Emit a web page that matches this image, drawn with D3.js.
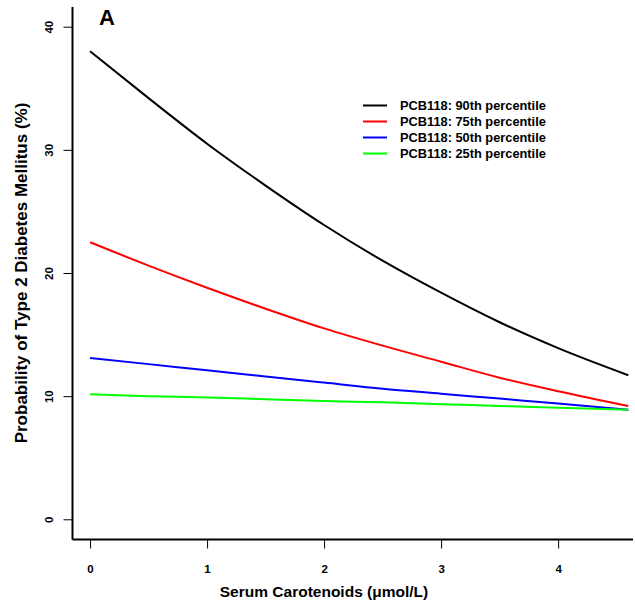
<!DOCTYPE html>
<html>
<head>
<meta charset="utf-8">
<script src="https://cdn.jsdelivr.net/npm/d3@7"></script>
<style>
  html, body { margin: 0; padding: 0; background: #fff; }
  svg { display: block; }
  text { font-family: "Liberation Sans", Arial, sans-serif; font-weight: bold; fill: #000; }
</style>
</head>
<body>
<svg id="chart" width="635" height="609"></svg>
<script>
// ---- data ----
const carotenoids = [0, 0.5, 1, 1.5, 2, 2.5, 3, 3.5, 4, 4.6];
const pcb90 = [38.0, 34.2, 30.5, 27.1, 23.9, 21.0, 18.4, 16.0, 13.9, 11.7];
const pcb75 = [22.5, 20.6, 18.8, 17.1, 15.5, 14.1, 12.8, 11.5, 10.4, 9.2];
const pcb50 = [13.1, 12.6, 12.1, 11.6, 11.1, 10.6, 10.2, 9.8, 9.4, 8.9];
const pcb25 = [10.15, 10.0, 9.9, 9.75, 9.6, 9.5, 9.35, 9.2, 9.05, 8.9];
const seriesNames = ["PCB118: 90th percentile", "PCB118: 75th percentile", "PCB118: 50th percentile", "PCB118: 25th percentile"];
const seriesColors = ["#000000", "#ff0000", "#0000ff", "#00ff00"];
const xTicks = [0, 1, 2, 3, 4];
const yTicks = [0, 10, 20, 30, 40];
const panelLabel = "A";
const xTitle = "Serum Carotenoids (\u03bcmol/L)";
const yTitle = "Probability of Type 2 Diabetes Mellitus (%)";

const allSeries = [pcb90, pcb75, pcb50, pcb25];

const svg = d3.select("#chart");
const x = d3.scaleLinear().domain([-0.15, 4.64]).range([72.5, 633]);
const y = d3.scaleLinear().domain([-1.6, 41.6]).range([539, 7]);

// axes box (L shape)
svg.append("line").attr("x1", 72.5).attr("x2", 72.5).attr("y1", 7).attr("y2", 539.5)
  .attr("stroke", "#000").attr("stroke-width", 2);
svg.append("line").attr("x1", 72.5).attr("x2", 633).attr("y1", 539.5).attr("y2", 539.5)
  .attr("stroke", "#000").attr("stroke-width", 2);

// x axis
const xAxis = d3.axisBottom(x).tickValues(xTicks).tickSize(9).tickFormat(d3.format("d"));
const gx = svg.append("g").attr("transform", "translate(0,539.5)").call(xAxis);
gx.select(".domain").remove();
gx.selectAll(".tick line").attr("stroke", "#000").attr("stroke-width", 1);
gx.selectAll(".tick text").attr("y", 33).attr("dy", null)
  .style("font-size", "11.5px").style("font-family", "'Liberation Sans', Arial, sans-serif").style("font-weight", "bold");

// y axis
const yAxis = d3.axisLeft(y).tickValues(yTicks).tickSize(9).tickFormat(d3.format("d"));
const gy = svg.append("g").attr("transform", "translate(72.5,0)").call(yAxis);
gy.select(".domain").remove();
gy.selectAll(".tick line").attr("stroke", "#000").attr("stroke-width", 1);
gy.selectAll(".tick text")
  .attr("x", null).attr("dy", null)
  .attr("text-anchor", "middle")
  .attr("transform", "translate(-19.5,0) rotate(-90)")
  .style("font-size", "11.5px").style("font-family", "'Liberation Sans', Arial, sans-serif").style("font-weight", "bold");

// lines
const line = d3.line()
  .x((d, i) => x(carotenoids[i]))
  .y(d => y(d))
  .curve(d3.curveMonotoneX);

allSeries.forEach((s, i) => {
  svg.append("path").datum(s)
    .attr("d", line)
    .attr("fill", "none")
    .attr("stroke", seriesColors[i])
    .attr("stroke-width", 2);
});

// legend
const legY = [105.5, 121.5, 137.5, 153.5];
seriesNames.forEach((name, i) => {
  svg.append("line").attr("x1", 363).attr("x2", 387).attr("y1", legY[i]).attr("y2", legY[i])
    .attr("stroke", seriesColors[i]).attr("stroke-width", 2);
  svg.append("text").attr("x", 400).attr("y", legY[i] + 4.5)
    .style("font-size", "12.8px").text(name);
});

// panel label
svg.append("text").attr("x", 99).attr("y", 25).style("font-size", "22px").text(panelLabel);

// axis titles
svg.append("text").attr("x", 324).attr("y", 597).attr("text-anchor", "middle")
  .style("font-size", "15.5px").text(xTitle);
svg.append("text").attr("transform", "translate(27,273) rotate(-90)").attr("text-anchor", "middle")
  .style("font-size", "17px").text(yTitle);
</script>
</body>
</html>
